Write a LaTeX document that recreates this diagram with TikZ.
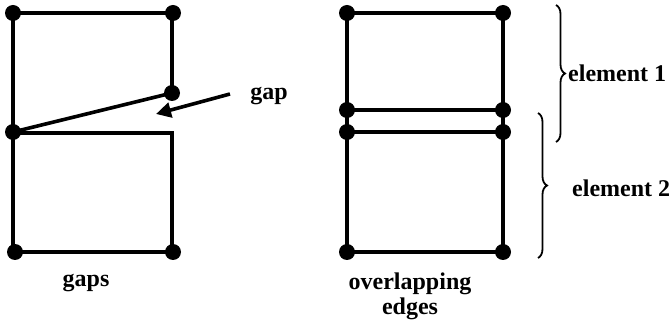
\documentclass[tikz,border=0pt]{standalone}
\usepackage{fontspec}
\setmainfont{Liberation Serif}
\usetikzlibrary{arrows.meta,decorations.pathreplacing}
\begin{document}
\begin{tikzpicture}[x=1pt,y=-1pt,
  edge/.style={line width=3.6pt},
  dot/.style={circle,fill=black,inner sep=0pt,minimum size=16pt},
  lbl/.style={font=\fontsize{24}{26}\selectfont\bfseries,inner sep=0pt},
  brc/.style={line width=1.8pt,decorate,decoration={brace,amplitude=9pt}}]
\useasboundingbox (0,0) rectangle (670,323);
% left figure
\coordinate (a1) at (13,13);
\coordinate (a2) at (173,13);
\coordinate (a3) at (172,93);
\coordinate (a4) at (13,132);
\coordinate (a5) at (172,133);
\coordinate (a6) at (15,252);
\coordinate (a7) at (173,252);
\draw[edge] (a3) -- (172,13) -- (a1) -- (13,252) -- (a6) -- (a7) -- (172,252) -- (a5) -- (13,133);
\draw[edge] (a4) -- (a3);
\foreach \p in {a1,a2,a3,a4,a6,a7} \node[dot] at (\p) {};
\coordinate (tail) at (230,94);
\coordinate (tip) at (156,114);
\draw[edge,-{Triangle[length=15pt,width=15pt]}] (tail) -- (tip);
\node[lbl] (gap) at (269,96) {gap};
\node[lbl] (gaps) at (86,283) {gaps};
% right figure
\coordinate (b1) at (347,13);
\coordinate (b2) at (503,13);
\coordinate (b3) at (347,110);
\coordinate (b4) at (503,110);
\coordinate (b5) at (347,132);
\coordinate (b6) at (503,132);
\coordinate (b7) at (347,252);
\coordinate (b8) at (503,252);
\draw[edge] (b1) -- (b2) -- (b4) -- (b3) -- cycle;
\draw[edge] (b5) -- (b6) -- (b8) -- (b7) -- cycle;
\draw[edge] (b3) -- (b5) (b4) -- (b6);
\foreach \p in {b1,b2,b3,b4,b5,b6,b7,b8} \node[dot] at (\p) {};
\node[lbl,align=center] (ov) at (410,296) {overlapping\\[-1pt]edges};
% braces
\coordinate (c1) at (556,5);
\coordinate (c2) at (556,142);
\coordinate (d1) at (538,113);
\coordinate (d2) at (538,258);
\draw[brc] (c1) -- (c2);
\draw[brc] (d1) -- (d2);
\node[lbl,anchor=west] (e1) at (568,73) {element 1};
\node[lbl,anchor=west] (e2) at (572,188) {element 2};
\end{tikzpicture}
\end{document}
